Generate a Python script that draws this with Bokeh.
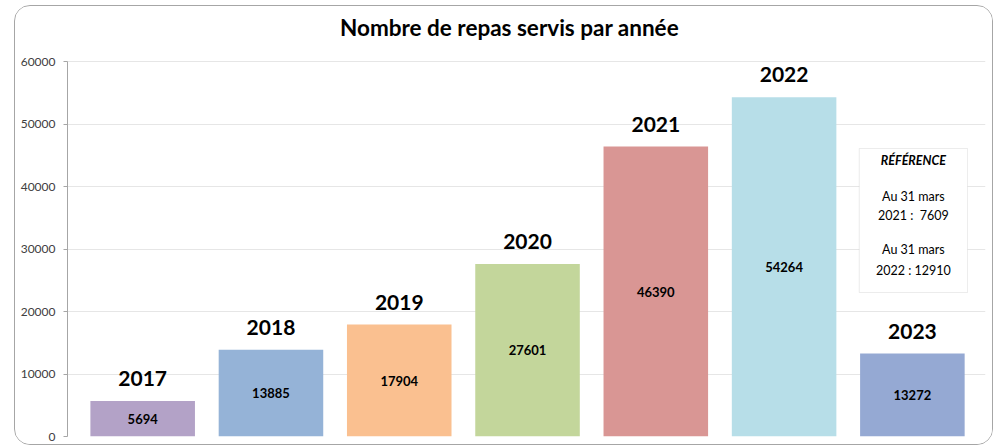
from bokeh.plotting import figure
from bokeh.models import Range1d, Label, BoxAnnotation, ColumnDataSource, SingleIntervalTicker, BasicTickFormatter
from bokeh.core.properties import value
from bokeh.embed import file_html
from bokeh.resources import INLINE

years = ["2017", "2018", "2019", "2020", "2021", "2022", "2023"]
meals = [5694, 13885, 17904, 27601, 46390, 54264, 13272]
colors = ["#B3A2C7", "#95B3D7", "#FAC090", "#C3D69B", "#D99694", "#B7DEE8", "#95A9D3"]
title_text = "Nombre de repas servis par année"
ref_lines = ["Au 31 mars", "2021 :\u00a0\u00a07609", "Au 31 mars", "2022 : 12910"]
y_max_tick = 60000

FONT = "Lato"
xs = list(range(len(years)))
src = ColumnDataSource(dict(
    x=xs, top=meals, year=years, color=colors,
    mid=[m / 2 for m in meals], label=[str(m) for m in meals],
))

p = figure(width=979, height=440, output_backend="svg", toolbar_location=None,
           x_range=Range1d(-0.586, 6.57), y_range=Range1d(0, 67360),
           min_border_left=52, min_border_right=9, min_border_top=9, min_border_bottom=10,
           margin=(5, 4, 3, 14))
p.styles = {"border": "1px solid #a6a6a6", "border-radius": "16px", "overflow": "hidden"}
p.outline_line_color = None
p.background_fill_color = "white"
p.border_fill_color = "white"

p.vbar(x="x", top="top", width=0.815, fill_color="color", line_color=None, source=src)
p.text(x="x", y="top", text="year", source=src, text_align="center", text_baseline="bottom",
       y_offset=-15, text_font_size="21px", text_font_style="bold", text_font=value(FONT), text_color="#000000")
p.text(x="x", y="mid", text="label", source=src, text_align="center", text_baseline="middle",
       text_font_size="13px", text_font_style="bold", text_font=value(FONT), text_color="#000000")

p.xaxis.visible = False
p.xgrid.visible = False
p.ygrid.grid_line_color = "#e6e6e6"
p.ygrid.grid_line_width = 1
p.yaxis.ticker = SingleIntervalTicker(interval=10000)
p.yaxis.bounds = (0, y_max_tick)
p.yaxis.axis_line_color = "#a6a6a6"
p.yaxis.major_tick_line_color = "#a6a6a6"
p.yaxis.major_tick_out = 4
p.yaxis.major_tick_in = 0
p.yaxis.minor_tick_line_color = None
p.yaxis.major_label_text_font = FONT
p.yaxis.major_label_text_font_size = "12px"
p.yaxis.major_label_text_color = "#404040"
p.yaxis.major_label_standoff = 8
p.yaxis.formatter = BasicTickFormatter(use_scientific=False)

# chart title
p.add_layout(Label(x=2.86, y=65440, text=title_text, text_align="center", text_baseline="middle",
                   text_font=FONT, text_font_size="22.5px", text_font_style="bold", text_color="#000000"))

# reference box
p.add_layout(BoxAnnotation(left=5.586, right=6.43, top=46080, bottom=23040,
                           fill_color="white", fill_alpha=1, line_color="#bfbfbf", line_width=1))
p.add_layout(Label(x=6.008, y=44160, text="RÉFÉRENCE", text_align="center", text_baseline="middle",
                   text_font=FONT, text_font_size="12.5px", text_font_style="bold italic", text_color="#000000"))
ys = [38400, 35350, 29920, 26560]
for t, yv in zip(ref_lines, ys):
    p.add_layout(Label(x=6.008, y=yv, text=t, text_align="center", text_baseline="middle",
                       text_font=FONT, text_font_size="12.5px", text_color="#000000"))

open("out.html", "w").write(file_html(p, INLINE))
